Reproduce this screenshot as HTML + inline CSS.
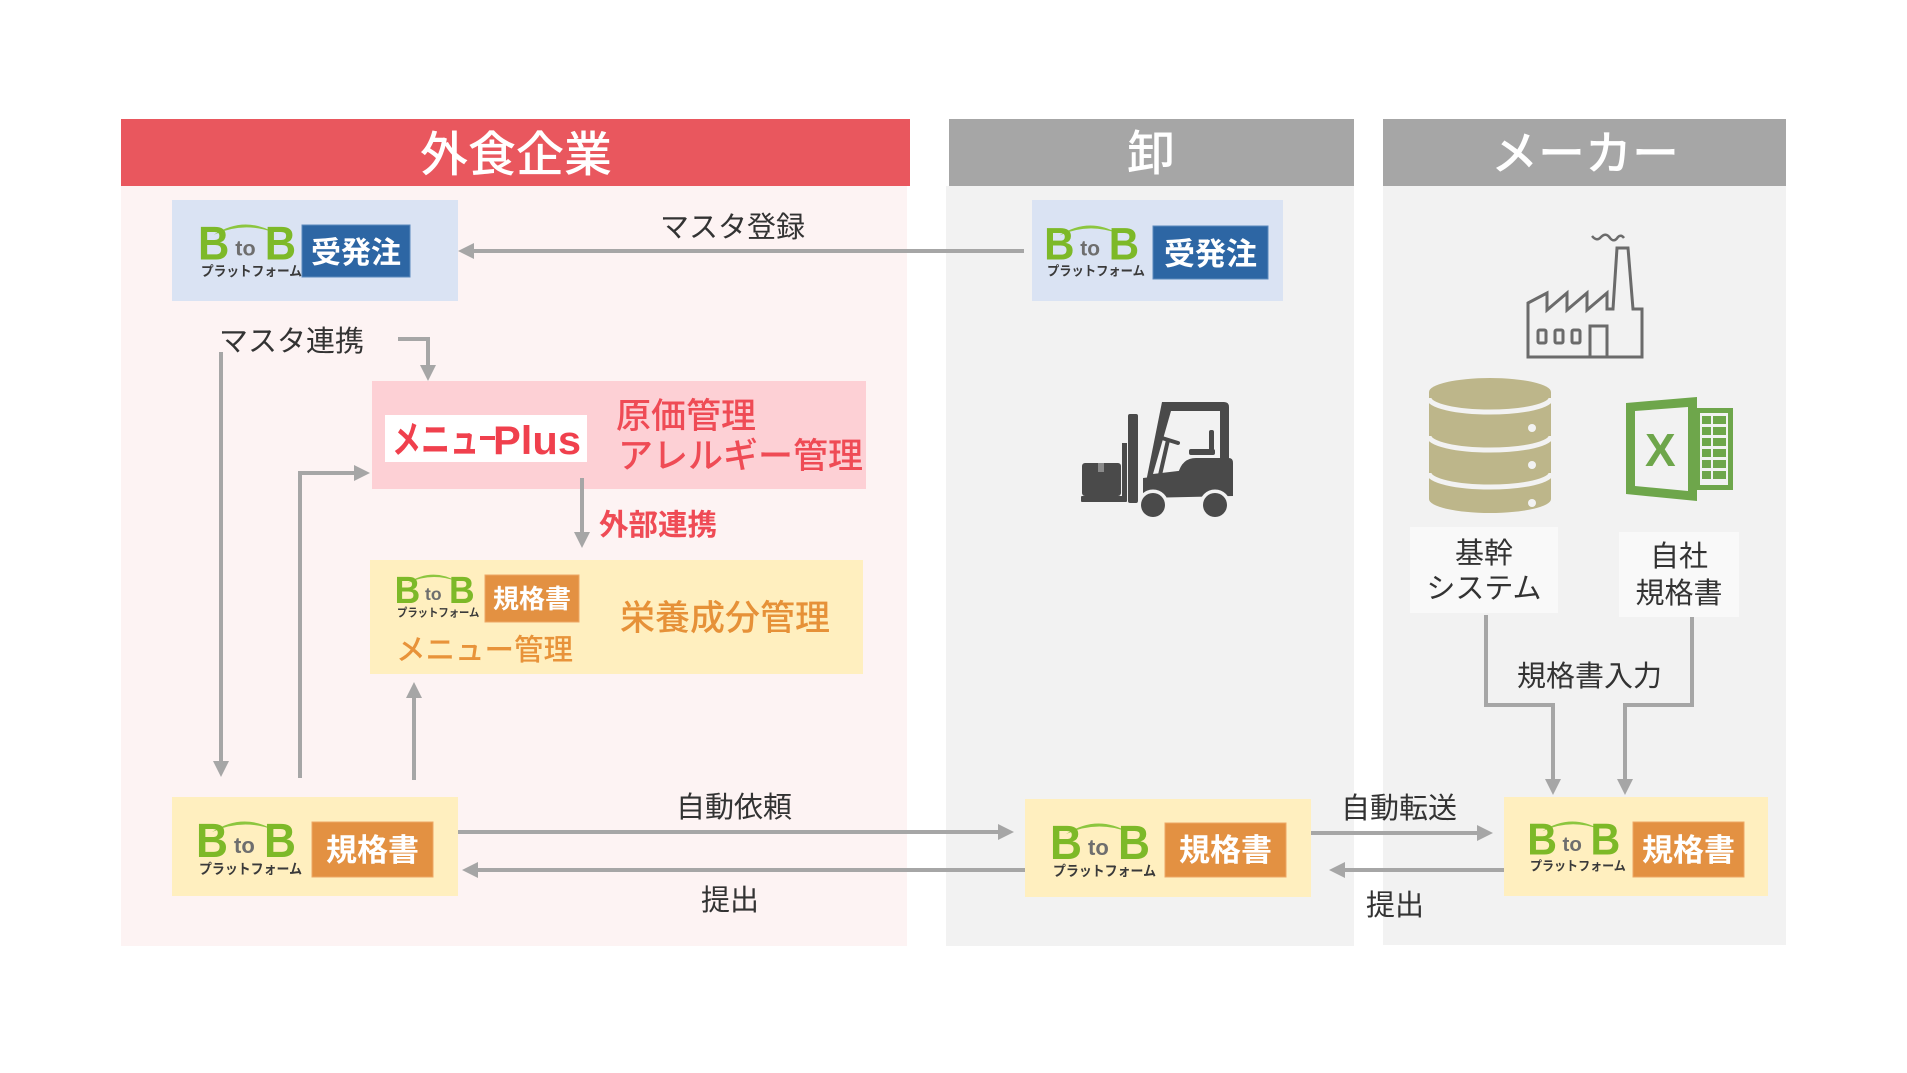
<!DOCTYPE html>
<html><head><meta charset="utf-8">
<style>
html,body{margin:0;padding:0;background:#fff;}
svg{display:block;}
text{font-family:"Liberation Sans","Noto Sans CJK JP",sans-serif;}
</style></head>
<body>
<svg width="1907" height="1073" viewBox="0 0 1907 1073" xmlns="http://www.w3.org/2000/svg">
<defs>
<g id="logo">
  <path d="M13 10 Q44 -10 75 8 Q44 -4 13 10Z" fill="#8cc63f"/>
  <text x="-3" y="35" font-size="48" font-weight="bold" fill="#7db928" textLength="32" lengthAdjust="spacingAndGlyphs">B</text>
  <text x="35" y="31" font-size="22" font-weight="bold" fill="#6e6e6e">to</text>
  <text x="65" y="35" font-size="48" font-weight="bold" fill="#7db928" textLength="32" lengthAdjust="spacingAndGlyphs">B</text>
  <text x="0" y="52" font-size="14" font-weight="bold" fill="#3a3a3a" textLength="103" lengthAdjust="spacingAndGlyphs">プラットフォーム</text>
</g>
</defs>

<!-- Panels -->
<rect x="121" y="186" width="786" height="760" fill="#fdf3f3"/>
<rect x="121" y="119" width="789" height="67" fill="#e9575e"/>
<rect x="946" y="186" width="408" height="760" fill="#f2f2f2"/>
<rect x="949" y="119" width="405" height="67" fill="#a6a6a6"/>
<rect x="1383" y="186" width="403" height="759" fill="#f2f2f2"/>
<rect x="1383" y="119" width="403" height="67" fill="#a6a6a6"/>

<text x="516" y="171" font-size="48" font-weight="500" fill="#fff" text-anchor="middle">外食企業</text>
<text x="1151" y="170" font-size="48" font-weight="500" fill="#fff" text-anchor="middle">卸</text>
<text x="1585" y="170" font-size="47" font-weight="500" fill="#fff" text-anchor="middle">メーカー</text>

<!-- Blue boxes -->
<rect x="172" y="200" width="286" height="101" fill="#dae3f3"/>
<use href="#logo" transform="translate(201,225) scale(0.98)"/>
<rect x="302" y="225" width="108" height="52" fill="#2d66a4" stroke="#5b89bd" stroke-width="1"/>
<text x="356" y="263" font-size="30" font-weight="bold" fill="#fff" text-anchor="middle">受発注</text>

<rect x="1032" y="200" width="251" height="101" fill="#dae3f3"/>
<use href="#logo" transform="translate(1047,226) scale(0.95)"/>
<rect x="1153" y="226" width="115" height="53" fill="#2d66a4" stroke="#5b89bd" stroke-width="1"/>
<text x="1210.5" y="265" font-size="31" font-weight="bold" fill="#fff" text-anchor="middle">受発注</text>

<!-- Pink box -->
<rect x="372" y="381" width="494" height="108" fill="#fdd0d5"/>
<rect x="385" y="415" width="202" height="47" fill="#fff"/>
<text x="392" y="453" font-size="38" font-weight="bold" fill="#f0404d" textLength="87" lengthAdjust="spacingAndGlyphs">メニュ</text>
<rect x="480" y="436" width="15" height="4" fill="#f0404d"/>
<text x="493" y="454" font-size="40" font-weight="bold" fill="#f0404d" textLength="88" lengthAdjust="spacingAndGlyphs">Plus</text>
<text x="616" y="428" font-size="35" font-weight="500" fill="#ef4b55">原価管理</text>
<text x="618" y="468" font-size="35" font-weight="500" fill="#ef4b55">アレルギー管理</text>

<text x="599" y="535" font-size="29.5" font-weight="bold" fill="#ef4b55">外部連携</text>

<!-- Yellow menu box -->
<rect x="370" y="560" width="493" height="114" fill="#ffefbf"/>
<use href="#logo" transform="translate(397,575) scale(0.8)"/>
<rect x="485" y="575" width="94" height="47" fill="#e39142" stroke="#eea764" stroke-width="1"/>
<text x="532" y="608" font-size="26" font-weight="bold" fill="#fff" text-anchor="middle">規格書</text>
<text x="396" y="660" font-size="29.5" font-weight="500" fill="#e8933a">メニュー管理</text>
<text x="620" y="630" font-size="35" font-weight="500" fill="#e69138">栄養成分管理</text>

<!-- Bottom yellow boxes -->
<rect x="172" y="797" width="286" height="99" fill="#ffefbf"/>
<use href="#logo" transform="translate(199,822)"/>
<rect x="312" y="822" width="121" height="55" fill="#e39142" stroke="#eea764" stroke-width="1"/>
<text x="372.5" y="861" font-size="31" font-weight="bold" fill="#fff" text-anchor="middle">規格書</text>

<rect x="1025" y="799" width="286" height="98" fill="#ffefbf"/>
<use href="#logo" transform="translate(1053,824)"/>
<rect x="1165" y="823" width="121" height="54" fill="#e39142" stroke="#eea764" stroke-width="1"/>
<text x="1225.5" y="861" font-size="31" font-weight="bold" fill="#fff" text-anchor="middle">規格書</text>

<rect x="1504" y="797" width="264" height="99" fill="#ffefbf"/>
<use href="#logo" transform="translate(1530,822) scale(0.93)"/>
<rect x="1633" y="822" width="111" height="55" fill="#e39142" stroke="#eea764" stroke-width="1"/>
<text x="1688.5" y="861" font-size="31" font-weight="bold" fill="#fff" text-anchor="middle">規格書</text>

<!-- Labels -->
<text x="660" y="237" font-size="29" fill="#333">マスタ登録</text>
<text x="219" y="351" font-size="29" fill="#333">マスタ連携</text>
<text x="676" y="817" font-size="29" fill="#333">自動依頼</text>
<text x="701" y="910" font-size="29" fill="#333">提出</text>
<text x="1341" y="818" font-size="29" fill="#333">自動転送</text>
<text x="1366" y="915" font-size="29" fill="#333">提出</text>
<text x="1517" y="686" font-size="29" fill="#333">規格書入力</text>

<!-- Maker label boxes -->
<rect x="1410" y="527" width="148" height="86" fill="#f9f9f9"/>
<text x="1484" y="563" font-size="29" fill="#333" text-anchor="middle">基幹</text>
<text x="1484" y="598" font-size="29" fill="#333" text-anchor="middle">システム</text>
<rect x="1619" y="532" width="120" height="85" fill="#f9f9f9"/>
<text x="1679" y="566" font-size="29" fill="#333" text-anchor="middle">自社</text>
<text x="1679" y="603" font-size="29" fill="#333" text-anchor="middle">規格書</text>

<!-- Arrows -->
<g stroke="#a6a6a6" stroke-width="4" fill="none">
  <line x1="1024" y1="251" x2="472" y2="251"/>
  <line x1="221" y1="352" x2="221" y2="763"/>
  <polyline points="398,339 428,339 428,367"/>
  <polyline points="300,778 300,473 356,473"/>
  <line x1="414" y1="780" x2="414" y2="696"/>
  <line x1="582" y1="478" x2="582" y2="534"/>
  <line x1="458" y1="832" x2="1000" y2="832"/>
  <line x1="1025" y1="870" x2="476" y2="870"/>
  <line x1="1311" y1="833" x2="1479" y2="833"/>
  <line x1="1504" y1="870" x2="1343" y2="870"/>
  <polyline points="1486,615 1486,705 1553,705 1553,781"/>
  <polyline points="1692,617 1692,705 1625,705 1625,781"/>
</g>
<g fill="#a6a6a6">
  <polygon points="458,251 474,243 474,259"/>
  <polygon points="213,761 229,761 221,777"/>
  <polygon points="420,365 436,365 428,381"/>
  <polygon points="354,465 354,481 370,473"/>
  <polygon points="406,698 422,698 414,682"/>
  <polygon points="574,532 590,532 582,548"/>
  <polygon points="998,824 998,840 1014,832"/>
  <polygon points="462,870 478,862 478,878"/>
  <polygon points="1477,825 1477,841 1493,833"/>
  <polygon points="1329,870 1345,862 1345,878"/>
  <polygon points="1545,779 1561,779 1553,795"/>
  <polygon points="1617,779 1633,779 1625,795"/>
</g>

<!-- Forklift -->
<g fill="#4a4a4a">
  <rect x="1128" y="414" width="10" height="89" rx="2"/>
  <rect x="1122" y="443" width="5" height="55"/>
  <rect x="1081" y="496" width="46" height="6" rx="1"/>
  <rect x="1082" y="463" width="39" height="33" rx="3"/>
  <rect x="1098" y="463" width="6" height="9" fill="#8a8a8a"/>
  <path d="M1162,402 L1224,402 Q1229,402 1229,407 L1229,470 L1146,482 Z"/>
  <path d="M1171,411 L1220,411 L1220,466 L1153,474 Z" fill="#f2f2f2"/>
  <path d="M1143,478 L1178,474 Q1182,458 1196,458 L1229,458 Q1233,458 1233,463 L1233,496 L1143,498 Z"/>
  <rect x="1189" y="449" width="26" height="6" rx="2"/>
  <rect x="1209" y="430" width="5" height="24" rx="2"/>
  <line x1="1160" y1="475" x2="1168" y2="440" stroke="#4a4a4a" stroke-width="4"/>
  <line x1="1162" y1="438" x2="1178" y2="443" stroke="#4a4a4a" stroke-width="4" stroke-linecap="round"/>
  <circle cx="1153" cy="505" r="15.5" fill="#f2f2f2"/>
  <circle cx="1215" cy="505" r="15.5" fill="#f2f2f2"/>
  <circle cx="1153" cy="505" r="12"/>
  <circle cx="1215" cy="505" r="12"/>
</g>

<!-- Factory -->
<g fill="none" stroke="#6b6b6b" stroke-width="3" stroke-linejoin="miter">
  <path d="M1528,303 L1547,293 L1547,310 L1567,293 L1567,310 L1587,293 L1587,310 L1607,293 L1607,309 L1613,309 L1617,248 L1628,248 L1633,309 L1642,309 L1642,357 L1528,357 Z"/>
  <rect x="1538" y="330" width="8" height="13" rx="1.5"/>
  <rect x="1555" y="330" width="8" height="13" rx="1.5"/>
  <rect x="1572" y="330" width="8" height="13" rx="1.5"/>
  <polyline points="1590,357 1590,326 1607,326 1607,357"/>
  <path d="M1592,236 Q1597,242 1601,237 Q1606,232 1610,238 Q1614,243 1618,237 Q1621,234 1624,238" stroke-width="2.5"/>
</g>

<!-- Database -->
<g>
  <path d="M1429,392 L1429,499 A61,14 0 0 0 1551,499 L1551,392 A61,14 0 0 0 1429,392 Z" fill="#bdb68a"/>
  <g fill="none" stroke="#f2f2f2" stroke-width="5">
    <path d="M1429,398 A61,14 0 0 0 1551,398"/>
    <path d="M1429,436 A61,14 0 0 0 1551,436"/>
    <path d="M1429,473 A61,14 0 0 0 1551,473"/>
  </g>
  <g fill="#f2f2f2">
    <circle cx="1532" cy="428" r="4"/>
    <circle cx="1532" cy="465" r="4"/>
    <circle cx="1532" cy="503" r="4"/>
  </g>
</g>

<!-- Excel -->
<g>
  <rect x="1695" y="408" width="38" height="82" fill="#6ea64b"/>
  <rect x="1700" y="413" width="28" height="72" fill="#f2f2f2"/>
  <g fill="#6ea64b">
    <rect x="1702" y="416" width="9" height="8"/><rect x="1713" y="416" width="13" height="8"/>
    <rect x="1702" y="427" width="9" height="8"/><rect x="1713" y="427" width="13" height="8"/>
    <rect x="1702" y="438" width="9" height="8"/><rect x="1713" y="438" width="13" height="8"/>
    <rect x="1702" y="449" width="9" height="8"/><rect x="1713" y="449" width="13" height="8"/>
    <rect x="1702" y="460" width="9" height="8"/><rect x="1713" y="460" width="13" height="8"/>
    <rect x="1702" y="471" width="9" height="8"/><rect x="1713" y="471" width="13" height="8"/>
  </g>
  <path d="M1626,403 L1697,397 L1697,501 L1626,494 Z" fill="#6ea64b"/>
  <path d="M1635,411 L1688,407 L1688,491 L1635,486 Z" fill="#f2f2f2"/>
  <text x="1645" y="466" font-size="46" font-weight="bold" fill="#6ea64b">X</text>
</g>
</svg>
</body></html>
